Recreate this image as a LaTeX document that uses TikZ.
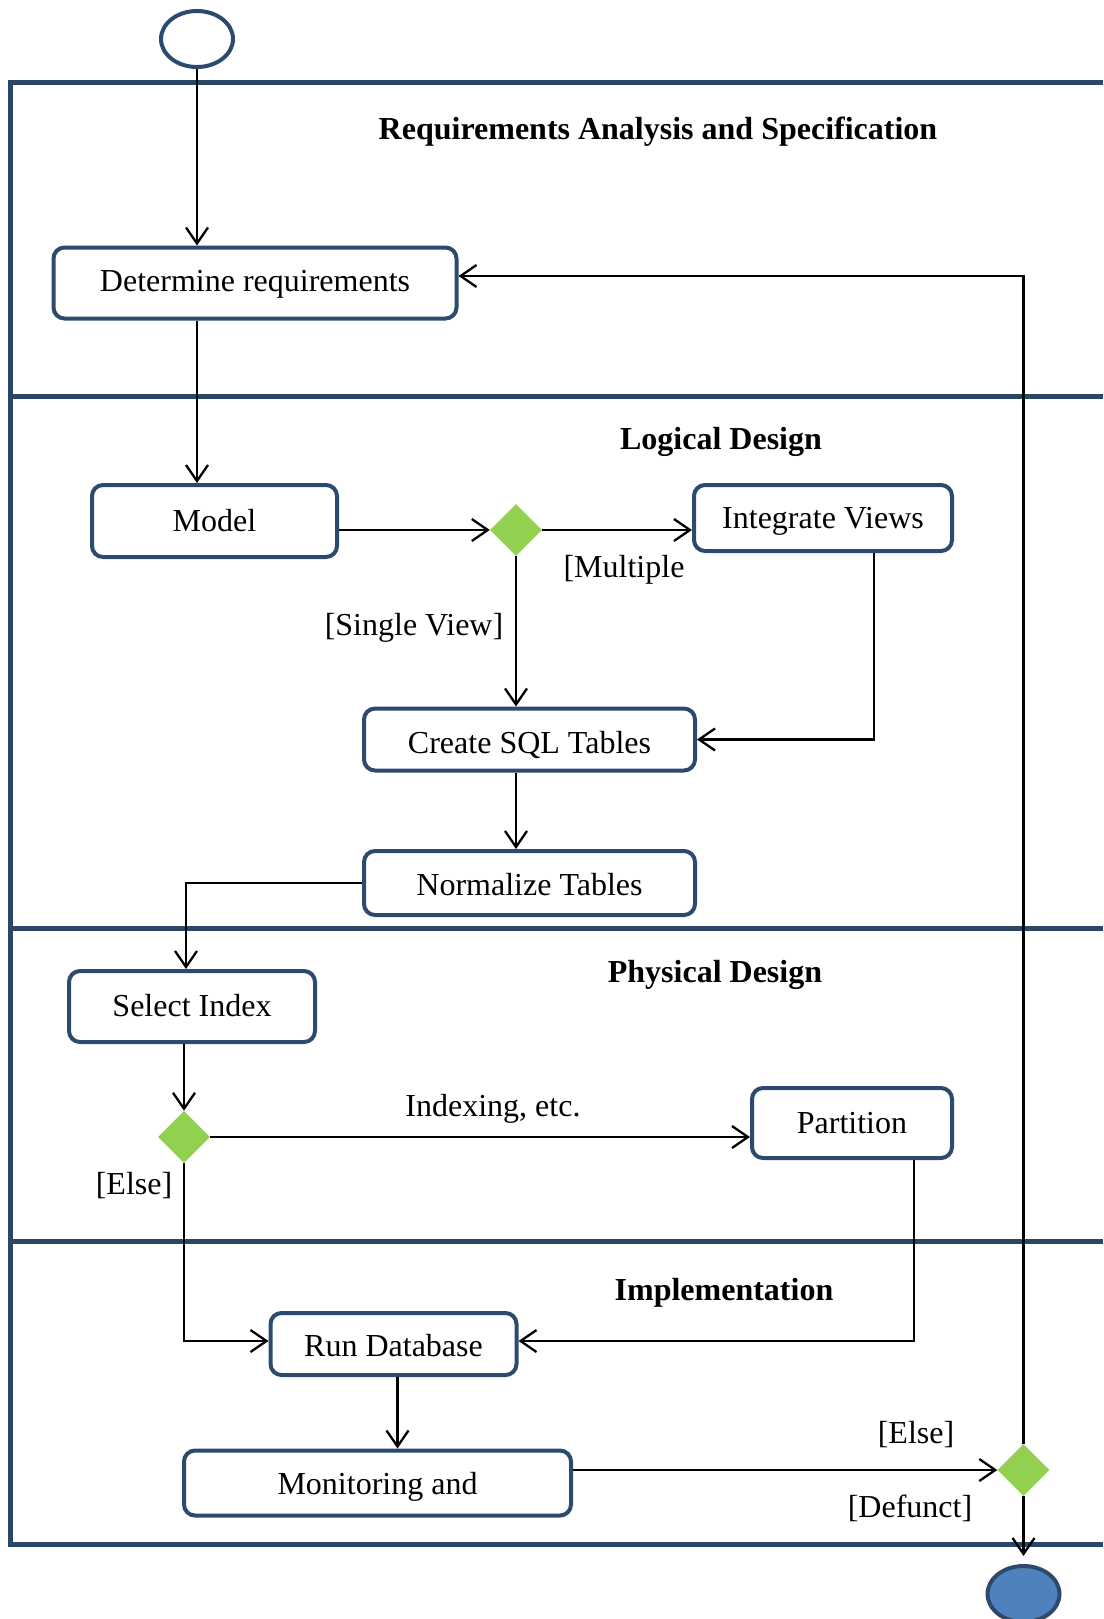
\documentclass[tikz,border=0pt]{standalone}
\usepackage{fontspec}
\setmainfont{Liberation Serif}
\usetikzlibrary{arrows.meta,shapes.geometric}
\definecolor{frameblue}{HTML}{2A4768}
\definecolor{boxblue}{HTML}{2C4A6E}
\definecolor{endfill}{HTML}{4F81BD}
\definecolor{decgreen}{HTML}{92D050}
\tikzset{
  actbox/.style={draw=boxblue, line width=4pt, rounded corners=11pt, fill=white,
    inner sep=0pt, text depth=7pt, font=\fontsize{32}{38}\selectfont},
  decision/.style={diamond, fill=decgreen, draw=none, minimum width=52pt,
    minimum height=52pt, inner sep=0pt},
  terminal/.style={ellipse, draw=boxblue, line width=4pt, minimum width=72pt,
    minimum height=56pt, inner sep=0pt},
  lanetitle/.style={font=\fontsize{32}{38}\selectfont\bfseries},
  guard/.style={font=\fontsize{32}{38}\selectfont},
  flow/.style={line width=2.3pt, -{Straight Barb[length=16pt,width=22pt,line width=2.3pt]}},
}
\begin{document}
\begin{tikzpicture}[x=1pt,y=-1pt]
\useasboundingbox (0,0) rectangle (1103,1619);

% swimlane frame, open on the right
\draw[frameblue, line width=5pt, line join=miter]
  (1103,82) -- (10,82) -- (10,1544) -- (1103,1544);
\foreach \yy in {396,928,1241}
  \draw[frameblue, line width=5pt] (10,\yy) -- (1103,\yy);

% lane titles
\node[lanetitle] (t1) at (658,132) {Requirements Analysis and Specification};
\node[lanetitle] (t2) at (721,442) {Logical Design};
\node[lanetitle] (t3) at (715,975) {Physical Design};
\node[lanetitle] (t4) at (724,1293) {Implementation};

% start and end
\node[terminal, fill=white] (start) at (197,39) {};
\node[terminal, fill=endfill] (stop) at (1023.5,1594) {};

% activities (text height sets where each label's baseline sits)
\node[actbox, text height=23pt, minimum width=403pt, minimum height=71pt] (detreq) at (255,283) {Determine requirements};
\node[actbox, text height=27pt, minimum width=245pt, minimum height=72pt] (model) at (214.5,521) {Model};
\node[actbox, text height=28pt, minimum width=258pt, minimum height=66pt] (integ) at (823,518) {Integrate Views};
\node[actbox, text height=34pt, minimum width=331pt, minimum height=62pt] (csql) at (529.5,739.5) {Create SQL Tables};
\node[actbox, text height=32pt, minimum width=331pt, minimum height=64pt] (norm) at (529.5,883) {Normalize Tables};
\node[actbox, text height=26pt, minimum width=246pt, minimum height=71pt] (selidx) at (192,1006.5) {Select Index};
\node[actbox, text height=27pt, minimum width=200pt, minimum height=70pt] (part) at (852,1123) {Partition};
\node[actbox, text height=32pt, minimum width=246pt, minimum height=62pt] (rundb) at (393.5,1344) {Run Database};
\node[actbox, text height=30pt, minimum width=387pt, minimum height=65pt] (monit) at (377.5,1483) {Monitoring and};

% decisions
\node[decision] (d1) at (516,530) {};
\node[decision] (d2) at (184,1137) {};
\node[decision] (d3) at (1023.5,1470) {};

% guards
\node[guard] (gmult) at (624,570) {[Multiple};
\node[guard] (gsing) at (414,628) {[Single View]};
\node[guard] (gidx) at (493,1109) {Indexing, etc.};
\node[guard] (gelse1) at (134,1186) {[Else]};
\node[guard] (gelse2) at (916,1435) {[Else]};
\node[guard] (gdef) at (910,1508) {[Defunct]};

% connectors
\coordinate (fb) at (d3.north |- 0,276);
\draw[flow] (start) -- (start |- detreq.north);
\draw[flow] (start |- detreq.south) -- (start |- model.north);
\draw[flow] (d1.west -| model.east) -- (d1.west);
\draw[flow] (d1.east) -- (d1.east -| integ.west);
\draw[flow] (d1.south) -- (d1.south |- csql.north);
\draw[flow] ([xshift=51pt]integ.south) |- (csql.east);
\draw[flow] (d1.south |- csql.south) -- (d1.south |- norm.north);
\draw[flow] (norm.west) -| ([xshift=-6pt]selidx.north);
\draw[flow] (d2.north |- selidx.south) -- (d2.north);
\draw[flow] (d2.east) -- (d2.east -| part.west);
\draw[flow] (d2.south) |- ([yshift=3pt]rundb.west);
\draw[flow] ([xshift=62pt]part.south) |- ([yshift=3pt]rundb.east);
\draw[flow] ([xshift=4pt]rundb.south) -- ([xshift=4pt]rundb.south |- monit.north);
\draw[flow] (d3.west -| monit.east) -- (d3.west);
\draw[flow, shorten >=8pt] (d3.south) -- (stop.north);
\draw[flow] (d3.north) -- (fb) -- (fb -| detreq.east);
\end{tikzpicture}
\end{document}
